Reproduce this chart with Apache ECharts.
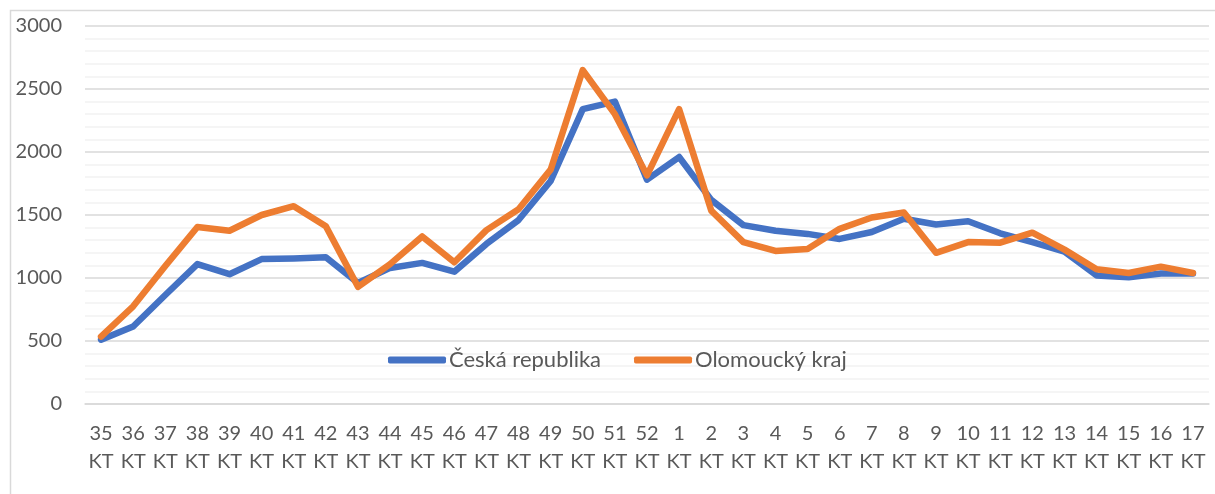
<!DOCTYPE html>
<html><head><meta charset="utf-8">
<script src="https://cdn.jsdelivr.net/npm/echarts@6/dist/echarts.min.js"></script>
<style>html,body{margin:0;padding:0;background:#fff}#c{width:1215px;height:494px}</style>
</head><body><div id="c"></div>
<script>
const weeks = ['35','36','37','38','39','40','41','42','43','44','45','46','47','48','49','50','51','52','1','2','3','4','5','6','7','8','9','10','11','12','13','14','15','16','17'];
const categories = weeks.map(w => w + '\nKT');
const ceskaRepublika = [510,615,865,1110,1030,1150,1155,1165,960,1080,1120,1050,1270,1460,1770,2340,2400,1780,1960,1620,1420,1375,1350,1310,1365,1470,1425,1450,1355,1285,1210,1020,1005,1035,1035];
const olomouckyKraj = [535,775,1095,1405,1375,1500,1570,1410,930,1110,1330,1125,1380,1545,1860,2650,2300,1815,2340,1535,1285,1215,1230,1390,1480,1520,1200,1285,1280,1360,1225,1070,1040,1090,1040];
const seriesNames = ['Česká republika', 'Olomoucký kraj'];
const colors = ['#4472c4', '#ed7d31'];
const FONT = 'Lato';

const chart = echarts.init(document.getElementById('c'));
chart.setOption({
  animation: false,
  textStyle: {fontFamily: FONT},
  graphic: [{type: 'rect', shape: {x: 10.5, y: 10.5, width: 1230, height: 520}, style: {fill: 'none', stroke: '#d9d9d9', lineWidth: 1.5}, silent: true}],
  legend: {
    left: 383, top: 344, itemWidth: 58, itemHeight: 7, itemGap: 33, icon: 'roundRect',
    textStyle: {color: '#595959', fontSize: 22, fontFamily: FONT, padding: [0, 0, 0, -2]},
    data: seriesNames
  },
  grid: {left: 85, right: 6, top: 26, bottom: 90},
  xAxis: {
    type: 'category', data: categories, boundaryGap: true,
    axisLine: {show: true, lineStyle: {color: '#d9d9d9', width: 1.5}},
    axisTick: {show: false},
    axisLabel: {color: '#595959', fontSize: 20, lineHeight: 28, margin: 16, interval: 0, fontFamily: FONT}
  },
  yAxis: {
    type: 'value', min: 0, max: 3000, interval: 500,
    axisLine: {show: false}, axisTick: {show: false},
    axisLabel: {color: '#595959', fontSize: 20, margin: 23, fontFamily: FONT, formatter: v => String(v)},
    splitLine: {lineStyle: {color: '#d9d9d9', width: 1.5}},
    minorTick: {show: false, splitNumber: 5},
    minorSplitLine: {show: true, lineStyle: {color: '#f2f2f2', width: 1.5}}
  },
  series: [
    {name: seriesNames[0], type: 'line', data: ceskaRepublika, symbol: 'none', color: colors[0], lineStyle: {width: 6.5, join: 'round', cap: 'round'}},
    {name: seriesNames[1], type: 'line', data: olomouckyKraj, symbol: 'none', color: colors[1], lineStyle: {width: 6.5, join: 'round', cap: 'round'}}
  ]
});
</script></body></html>
